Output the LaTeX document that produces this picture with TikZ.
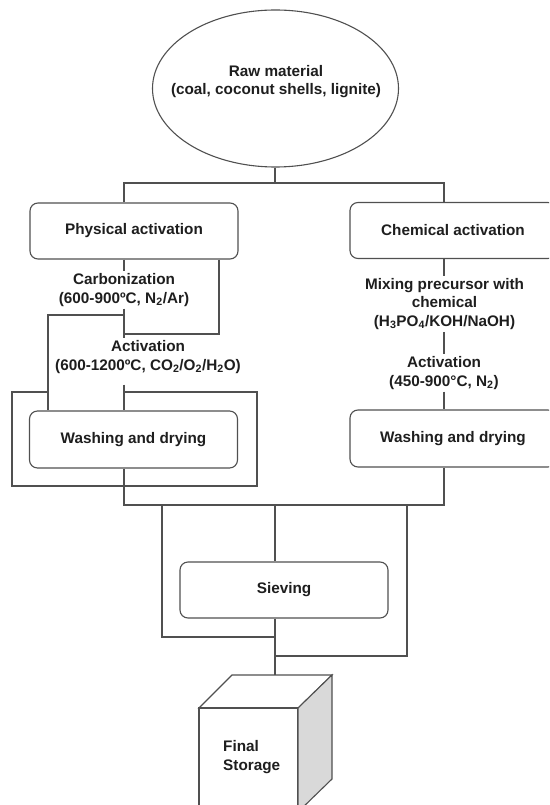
\documentclass[tikz,border=0pt]{standalone}
\usepackage{fontspec}
\setmainfont{Liberation Sans}
\usetikzlibrary{shapes.geometric}
\definecolor{ln}{HTML}{505050}
\definecolor{txt}{HTML}{1E1E1E}
\definecolor{side}{HTML}{D9D9D9}
\tikzset{
  every node/.style={font=\fontsize{15.3}{18.5}\selectfont\bfseries, text=txt},
  box/.style={draw=ln, line width=1.1pt, rounded corners=8pt, minimum width=208pt, minimum height=56pt, inner sep=0pt},
  lbl/.style={align=center, inner sep=2pt},
  conn/.style={draw=ln, line width=1.1pt},
}
\begin{document}
\begin{tikzpicture}[x=1pt,y=-1pt]
\useasboundingbox (0,0) rectangle (549,805);
\clip (0,0) rectangle (549,805);
% reference x positions
\coordinate (xL) at (124,0);
\coordinate (xR) at (444,0);
\coordinate (xP) at (219,0);
\coordinate (xW) at (48,0);
\coordinate (xM) at (275,0);
% nodes
\node[draw=ln, ellipse, line width=1.1pt, minimum width=246pt, minimum height=157pt, inner sep=0pt] (raw) at (275.5,88.5) {};
\node[lbl] (rawtxt) at (276,81.5) {Raw material\\(coal, coconut shells, lignite)};
\node[box] (phys) at (134,231) {Physical activation};
\node[box, minimum width=206pt] (chem) at (453,230.5) {Chemical activation};
\node[lbl] (carb) at (124,290) {Carbonization\\(600-900ºC, N\textsubscript{2}/Ar)};
\node[lbl] (act1) at (148,357) {Activation\\(600-1200ºC, CO\textsubscript{2}/O\textsubscript{2}/H\textsubscript{2}O)};
\node[lbl] (mix) at (444.5,304) {Mixing precursor with\\chemical\\(H\textsubscript{3}PO\textsubscript{4}/KOH/NaOH)};
\node[lbl] (act2) at (444,373) {Activation\\(450-900°C, N\textsubscript{2})};
\node[box, minimum height=57pt] (wash1) at (133.5,439.5) {Washing and drying};
\node[box, minimum width=206pt, minimum height=57pt] (wash2) at (453,438.5) {Washing and drying};
\node[box] (sieve) at (284,590) {Sieving};
% storage cube
\filldraw[draw=ln, fill=white, line width=1.1pt] (199,708) -- (232,675) -- (332,675) -- (298,708) -- cycle;
\filldraw[draw=ln, fill=white, line width=1.1pt] (199,708) rectangle (298,830);
\filldraw[draw=ln, fill=side, line width=1.1pt] (298,708) -- (332,675) -- (332,779) -- (298,812) -- cycle;
\coordinate (cubetop) at (275,675);
\node[align=left, anchor=west, inner sep=0pt] (store) at (223,757) {Final\\Storage};
% junctions
\coordinate (jtop) at (275,183);
\coordinate (jmid) at (124,334);
\coordinate (jc) at (124,315);
\coordinate (f1) at (48,392);
\coordinate (f2) at (124,392);
\coordinate (fTL) at (12,392);
\coordinate (fBR) at (257,486);
\coordinate (jb) at (275,505);
\coordinate (jl) at (162,505);
\coordinate (jr) at (407,505);
\coordinate (s1) at (275,637);
\coordinate (s2) at (275,656);
% connectors
\draw[conn] (raw.south -| xM) -- (jtop);
\draw[conn] (phys.north -| xL) |- (jtop) -| (chem.north -| xR);
\draw[conn] (phys.south -| xL) -- (carb.north -| xL);
\draw[conn] (phys.south -| xP) |- (jmid);
\draw[conn] (carb.south -| xL) -- (act1.north -| xL);
\draw[conn] (jc) -| (wash1.north -| xW);
\draw[conn, shorten <=9pt] (act1.south -| xL) -- (wash1.north -| xL);
\draw[conn] (f1) -- (fTL) |- (fBR) |- (f2);
\draw[conn] (chem.south -| xR) -- (mix.north -| xR);
\draw[conn] (mix.south -| xR) -- (act2.north -| xR);
\draw[conn] (act2.south -| xR) -- (wash2.north -| xR);
\draw[conn] (wash1.south -| xL) |- (jb) -| (wash2.south -| xR);
\draw[conn] (jl) |- (s1);
\draw[conn] (jb) -- (sieve.north -| xM);
\draw[conn] (jr) |- (s2);
\draw[conn] (sieve.south -| xM) -- (cubetop);
\end{tikzpicture}
\end{document}
